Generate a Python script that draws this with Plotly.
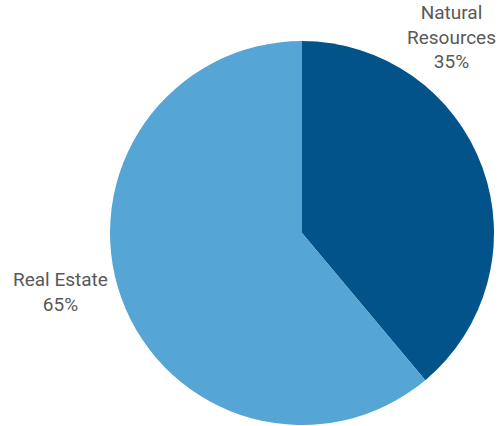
import plotly.graph_objects as go

categories = ["Natural Resources", "Real Estate"]
slice_values = [38.9, 61.1]
label_pcts = ["35%", "65%"]
colors = ["#02538A", "#55A6D4"]

fig = go.Figure(go.Pie(
    labels=categories,
    values=slice_values,
    sort=False,
    direction="clockwise",
    rotation=0,
    marker=dict(colors=colors, line=dict(width=0)),
    textinfo="none",
    hoverinfo="label+percent",
    showlegend=False,
    domain=dict(x=[110/502, 494/502], y=[1/426, 385/426]),
))

W, H = 502, 426
label_pos = [(451, 37), (60, 292)]
for name, pct, (px, py) in zip(categories, label_pcts, label_pos):
    text = name.replace(" ", "<br>") if name == "Natural Resources" else name
    fig.add_annotation(
        x=px / W, y=1 - py / H, xref="paper", yref="paper",
        text=f"{text}<br>{pct}", showarrow=False,
        font=dict(family="Roboto", size=19, color="#595959"),
        align="center", xanchor="center", yanchor="middle",
    )

fig.update_layout(
    width=W, height=H,
    margin=dict(l=0, r=0, t=0, b=0),
    paper_bgcolor="white", plot_bgcolor="white",
)
fig.write_html("out.html")
